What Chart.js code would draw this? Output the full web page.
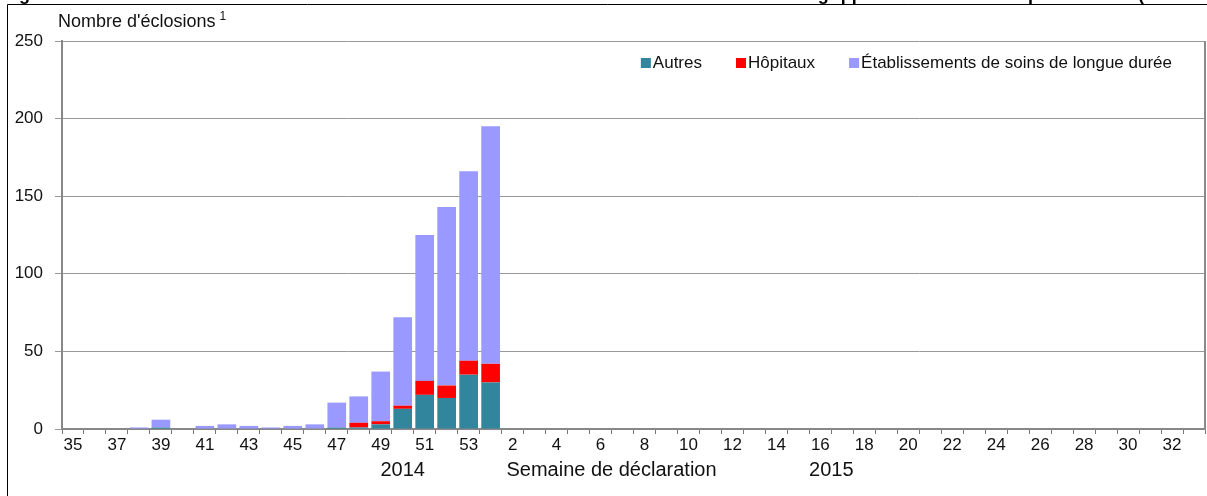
<!DOCTYPE html>
<html><head><meta charset="utf-8">
<script src="https://cdn.jsdelivr.net/npm/chart.js@4"></script>
<style>html,body{margin:0;padding:0;background:#fff;overflow:hidden}canvas{display:block}</style>
</head><body>
<canvas id="c" width="1207" height="496"></canvas>
<script>
// ---- data ----
const weeks = ['35','36','37','38','39','40','41','42','43','44','45','46','47','48','49','50','51','52','53',
  '1','2','3','4','5','6','7','8','9','10','11','12','13','14','15','16','17','18','19','20','21','22','23','24','25','26','27','28','29','30','31','32','33'];
const autres =         [0,0,0,0,1,0,0,0,0,0,0,0,1,1,3,13,22,20,35, 30, 0,0,0,0,0,0,0,0,0,0,0,0,0,0,0,0,0,0,0,0,0,0,0,0,0,0,0,0,0,0,0,0];
const hopitaux =       [0,0,0,0,0,0,0,0,0,0,0,0,0,3,2,2,9,8,9, 12, 0,0,0,0,0,0,0,0,0,0,0,0,0,0,0,0,0,0,0,0,0,0,0,0,0,0,0,0,0,0,0,0];
const etablissements = [0,0,0,1,5,0,2,3,2,1,2,3,16,17,32,57,94,115,122, 153, 0,0,0,0,0,0,0,0,0,0,0,0,0,0,0,0,0,0,0,0,0,0,0,0,0,0,0,0,0,0,0,0];
const seriesNames = ['Autres','Hôpitaux','Établissements de soins de longue durée'];
const yMin = 0, yMax = 250, yStep = 50;
const yearLabels = [{text:'2014', from:15, to:15}, {text:'Semaine de déclaration', from:24, to:25}, {text:'2015', from:34, to:35}];
const titleText = "Figure 1 : Nombre d'éclosions dans les établissements de soins de santé de l'Ontario liées à la grippe selon le milieu et par semaine (2014-2015)";
const yTitle = "Nombre d'éclosions";

const FONT = "'Liberation Sans', Arial, sans-serif";
Chart.defaults.font.family = FONT;
Chart.defaults.color = '#111';

const deco = {
  id: 'deco',
  beforeDraw(chart) {
    const ctx = chart.ctx;
    ctx.save(); ctx.fillStyle = '#fff'; ctx.fillRect(0,0,chart.width,chart.height); ctx.restore();
  },
  afterDraw(chart) {
    const ctx = chart.ctx, ca = chart.chartArea, xs = chart.scales.x;
    ctx.save();
    // clipped title
    ctx.fillStyle = '#000';
    ctx.font = "bold 18px " + FONT;
    ctx.textBaseline = 'alphabetic';
    ctx.textAlign = 'left';
    ctx.fillText(titleText, 3, 0);
    // frame
    ctx.strokeStyle = '#000'; ctx.lineWidth = 1;
    ctx.beginPath(); ctx.moveTo(7.5, chart.height); ctx.lineTo(7.5, 4.5); ctx.lineTo(chart.width, 4.5); ctx.stroke();
    // plot right border
    ctx.strokeStyle = '#8a8a8a'; ctx.lineWidth = 2;
    ctx.beginPath(); ctx.moveTo(ca.right, ca.top); ctx.lineTo(ca.right, ca.bottom); ctx.stroke();
    // y title
    ctx.fillStyle = '#111';
    ctx.font = "18px " + FONT;
    ctx.textBaseline = 'middle';
    ctx.fillText(yTitle, 58, 22);
    const w = ctx.measureText(yTitle).width;
    ctx.font = "12px " + FONT;
    ctx.fillText('1', 58 + w + 4, 17);
    // bottom labels
    ctx.font = "20px " + FONT;
    ctx.textAlign = 'center';
    yearLabels.forEach(l => {
      const x = (xs.getPixelForValue(l.from) + xs.getPixelForValue(l.to)) / 2;
      ctx.fillText(l.text, x, 470);
    });
    // legend
    ctx.font = "17px " + FONT;
    ctx.textAlign = 'left';
    const box = 10, gapBox = 2, gapItem = 34;
    const items = chart.data.datasets.map(d => ({t: d.label, c: d.backgroundColor, w: ctx.measureText(d.label).width}));
    let total = items.reduce((s,i)=>s+box+gapBox+i.w,0) + gapItem*(items.length-1);
    let x = ca.right - 33 - total;
    const y = 63;
    items.forEach(i => {
      ctx.fillStyle = i.c; ctx.fillRect(x, y - box/2, box, box);
      ctx.fillStyle = '#111'; ctx.fillText(i.t, x + box + gapBox, y);
      x += box + gapBox + i.w + gapItem;
    });
    ctx.restore();
  }
};

new Chart(document.getElementById('c'), {
  type: 'bar',
  data: {
    labels: weeks,
    datasets: [
      {label: seriesNames[0], data: autres, backgroundColor: '#31859C'},
      {label: seriesNames[1], data: hopitaux, backgroundColor: '#FF0000'},
      {label: seriesNames[2], data: etablissements, backgroundColor: '#9999FF'}
    ]
  },
  options: {
    responsive: false, animation: false, devicePixelRatio: 1,
    layout: {padding: {top: 41, right: 2, left: 0, bottom: 0}},
    datasets: {bar: {barPercentage: 0.85, categoryPercentage: 1, borderWidth: 0}},
    plugins: {legend: {display: false}, tooltip: {enabled: false}, title: {display: false}},
    scales: {
      x: {
        stacked: true,
        afterFit(s) { s.height = 67; },
        grid: {offset: true, drawOnChartArea: false, drawTicks: true, tickLength: 5, color: '#777', lineWidth: 1},
        border: {color: '#888', width: 2},
        ticks: {autoSkip: false, maxRotation: 0, minRotation: 0, padding: 1, color: '#111', font: {size: 17},
          callback(v, i) { return i % 2 === 0 ? this.getLabelForValue(v) : ''; }}
      },
      y: {
        stacked: true, min: yMin, max: yMax,
        afterFit(s) { s.width = 62; },
        grid: {color: '#999', lineWidth: 1, drawTicks: true, tickLength: 7},
        border: {color: '#888', width: 2},
        ticks: {stepSize: yStep, padding: 12, color: '#111', font: {size: 17}}
      }
    }
  },
  plugins: [deco]
});
</script>
</body></html>
